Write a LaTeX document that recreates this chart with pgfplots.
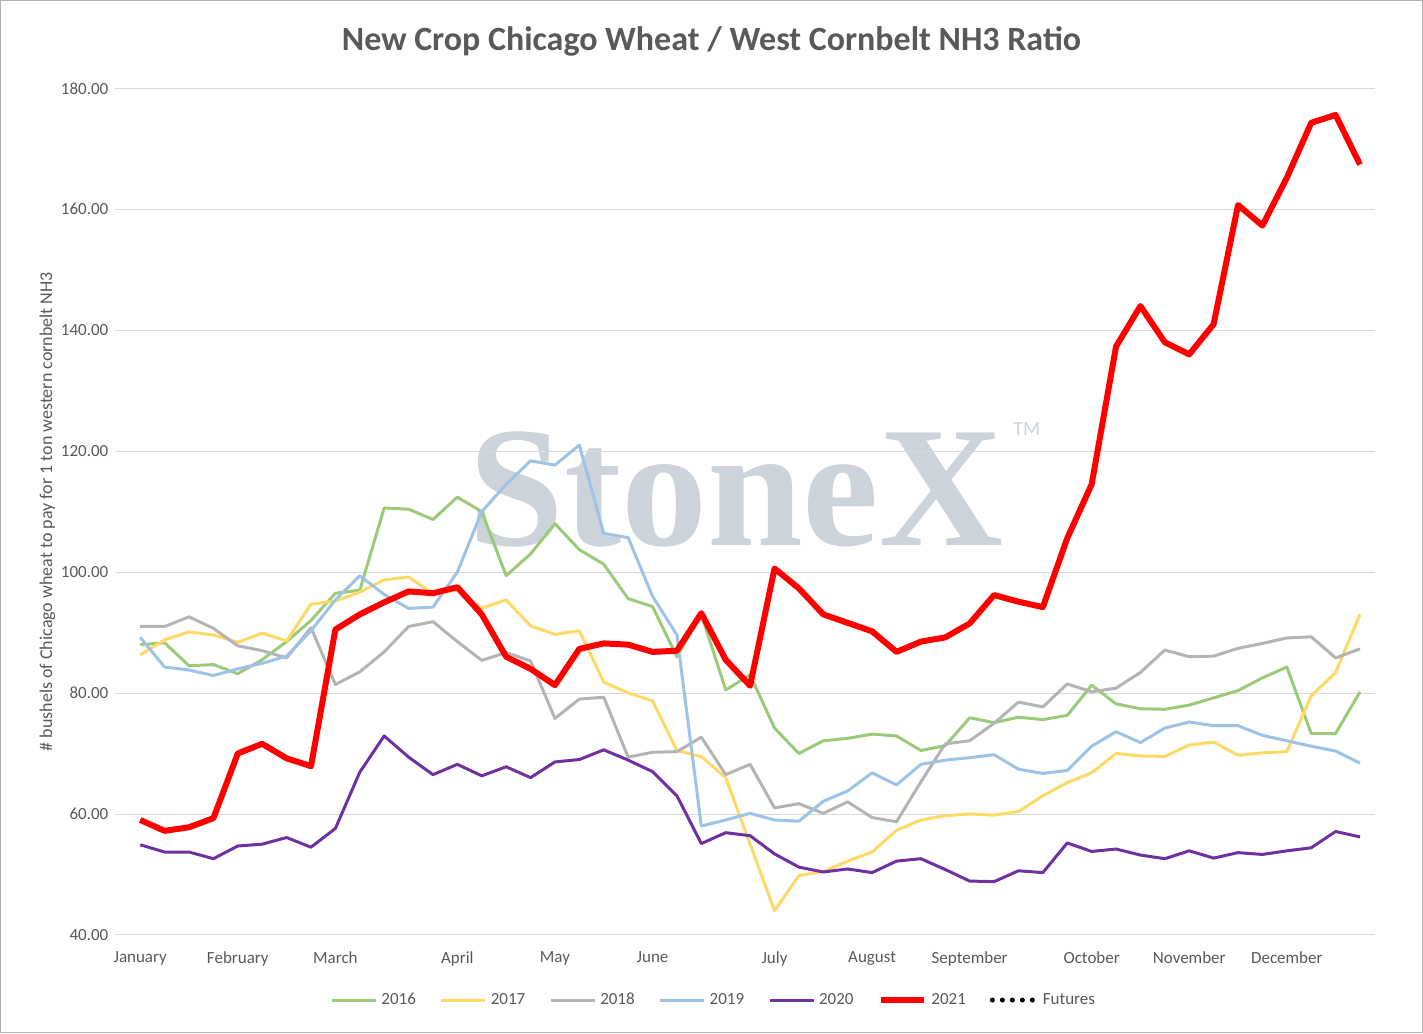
\documentclass[border=0pt]{standalone}
\usepackage{pgfplots}
\pgfplotsset{compat=1.18}
\usepackage{fontspec}
\setmainfont{Carlito}
\newfontfamily\wm{Liberation Serif}
\definecolor{c16}{HTML}{9BCB78}
\definecolor{c17}{HTML}{FFD966}
\definecolor{c18}{HTML}{B4B4B4}
\definecolor{c19}{HTML}{9DC3E6}
\definecolor{c20}{HTML}{7030A0}
\definecolor{c21}{HTML}{FF0000}
\definecolor{tk}{HTML}{595959}
\definecolor{wmc}{HTML}{CDD3DA}
\begin{document}
\begin{tikzpicture}
\path[draw=gray!60] (0,0) rectangle (711.5pt,516.5pt);
\node[text=wmc,font=\wm\bfseries\fontsize{86}{86}\selectfont] at (368pt,272pt) {StoneX};
\node[text=wmc,font=\fontsize{10}{10}\selectfont] at (513.5pt,302pt) {TM};
\node[font=\bfseries\fontsize{17}{20}\selectfont,text=tk] at (355.75pt,496pt) {New Crop Chicago Wheat / West Cornbelt NH3 Ratio};
\begin{axis}[at={(57.5pt,49pt)},anchor=south west,scale only axis,
 width=630pt,height=423.5pt,xmin=-1.02,xmax=50.6,ymin=40,ymax=180,
 axis line style={draw=none},tick style={draw=none},
 ytick={40,60,...,180},ymajorgrids,grid style={gray!30},
 yticklabel style={/pgf/number format/.cd,fixed,fixed zerofill,precision=2},
 /pgf/number format/assume math mode=true,
 ticklabel style={font=\fontsize{8.5}{10}\selectfont,text=tk},
 xticklabel style={yshift=-5pt},
 xtick={0,4,8,13,17,21,26,30,34,39,43,47},
 xticklabels={January,February,March,April,May,June,July,August,September,October,November,December},
 ylabel={\# bushels of Chicago wheat to pay for 1 ton western cornbelt NH3},
 ylabel style={font=\fontsize{9}{10}\selectfont,text=tk,yshift=-4pt},
 legend columns=7,legend style={draw=none,at={(0.476,-0.077)},anchor=center,font=\fontsize{8.5}{10}\selectfont,text=tk,/tikz/every even column/.append style={column sep=10pt}},
 legend image code/.code={\draw[#1] (0pt,0pt) -- (22pt,0pt);},
 every axis plot/.append style={line width=1.5pt,line join=round}]
\addplot[c16] coordinates {(0,88)(1,88.3)(2,84.5)(3,84.7)(4,83.2)(5,85.5)(6,88.5)(7,92)(8,96.5)(9,97)(10,110.6)(11,110.4)(12,108.7)(13,112.4)(14,110)(15,99.4)(16,103)(17,108)(18,103.7)(19,101.3)(20,95.6)(21,94.3)(22,86)(23,93)(24,80.5)(25,83)(26,74.2)(27,70)(28,72.1)(29,72.5)(30,73.2)(31,72.9)(32,70.5)(33,71.3)(34,75.9)(35,75.1)(36,76)(37,75.6)(38,76.3)(39,81.3)(40,78.2)(41,77.4)(42,77.3)(43,78)(44,79.2)(45,80.4)(46,82.5)(47,84.3)(48,73.3)(49,73.3)(50,80.2)};
\addlegendentry{2016}
\addplot[c17] coordinates {(0,86.3)(1,88.8)(2,90.1)(3,89.6)(4,88.4)(5,89.9)(6,88.6)(7,94.7)(8,95.2)(9,96.7)(10,98.7)(11,99.2)(12,96.4)(13,97)(14,94)(15,95.4)(16,91.1)(17,89.7)(18,90.3)(19,81.8)(20,80)(21,78.7)(22,70.5)(23,69.5)(24,66)(25,55)(26,44)(27,49.8)(28,50.5)(29,52.2)(30,53.7)(31,57.3)(32,59)(33,59.7)(34,60)(35,59.8)(36,60.4)(37,63)(38,65.2)(39,66.8)(40,70)(41,69.6)(42,69.5)(43,71.4)(44,71.9)(45,69.7)(46,70.1)(47,70.3)(48,79.5)(49,83.4)(50,93)};
\addlegendentry{2017}
\addplot[c18] coordinates {(0,91)(1,91)(2,92.6)(3,90.7)(4,87.8)(5,87)(6,85.8)(7,90.8)(8,81.4)(9,83.5)(10,86.8)(11,91)(12,91.8)(13,88.5)(14,85.4)(15,86.7)(16,85.3)(17,75.8)(18,79)(19,79.3)(20,69.4)(21,70.2)(22,70.3)(23,72.7)(24,66.5)(25,68.2)(26,61)(27,61.7)(28,60.1)(29,62)(30,59.4)(31,58.7)(32,65.3)(33,71.6)(34,72.1)(35,75)(36,78.5)(37,77.7)(38,81.5)(39,80.2)(40,80.8)(41,83.4)(42,87.1)(43,86)(44,86.1)(45,87.4)(46,88.2)(47,89.1)(48,89.3)(49,85.8)(50,87.3)};
\addlegendentry{2018}
\addplot[c19] coordinates {(0,89.2)(1,84.3)(2,83.8)(3,82.9)(4,84)(5,84.9)(6,86.1)(7,90.3)(8,95.4)(9,99.4)(10,96.3)(11,94)(12,94.2)(13,100)(14,110)(15,114.5)(16,118.4)(17,117.7)(18,121)(19,106.4)(20,105.7)(21,96)(22,89.6)(23,58)(24,59)(25,60.1)(26,59)(27,58.8)(28,62.1)(29,63.8)(30,66.8)(31,64.8)(32,68.2)(33,68.9)(34,69.3)(35,69.8)(36,67.4)(37,66.7)(38,67.2)(39,71.2)(40,73.6)(41,71.8)(42,74.2)(43,75.2)(44,74.6)(45,74.6)(46,73)(47,72.1)(48,71.2)(49,70.4)(50,68.4)};
\addlegendentry{2019}
\addplot[c20] coordinates {(0,54.9)(1,53.7)(2,53.7)(3,52.6)(4,54.7)(5,55)(6,56.1)(7,54.5)(8,57.6)(9,66.9)(10,72.9)(11,69.4)(12,66.5)(13,68.2)(14,66.3)(15,67.8)(16,66)(17,68.6)(18,69)(19,70.6)(20,68.9)(21,67)(22,63)(23,55.1)(24,56.9)(25,56.4)(26,53.4)(27,51.2)(28,50.4)(29,50.9)(30,50.3)(31,52.2)(32,52.6)(33,50.8)(34,48.9)(35,48.8)(36,50.6)(37,50.3)(38,55.2)(39,53.8)(40,54.2)(41,53.2)(42,52.6)(43,53.9)(44,52.7)(45,53.6)(46,53.3)(47,53.9)(48,54.4)(49,57.1)(50,56.2)};
\addlegendentry{2020}
\addplot[c21,line width=3pt] coordinates {(0,59)(1,57.2)(2,57.8)(3,59.3)(4,70)(5,71.6)(6,69.2)(7,67.9)(8,90.5)(9,93)(10,95)(11,96.8)(12,96.5)(13,97.5)(14,93)(15,86)(16,84)(17,81.3)(18,87.3)(19,88.2)(20,88)(21,86.8)(22,87)(23,93.2)(24,85.5)(25,81.2)(26,100.6)(27,97.3)(28,93)(29,91.6)(30,90.2)(31,86.8)(32,88.5)(33,89.2)(34,91.5)(35,96.2)(36,95.1)(37,94.2)(38,105.6)(39,114.5)(40,137.3)(41,144)(42,138)(43,136)(44,141)(45,160.7)(46,157.3)(47,165.2)(48,174.3)(49,175.6)(50,167.4)};
\addlegendentry{2021}
\addlegendimage{black,line width=2.5pt,dash pattern=on 0pt off 5pt,line cap=round}
\addlegendentry{Futures}
\end{axis}
\end{tikzpicture}
\end{document}
